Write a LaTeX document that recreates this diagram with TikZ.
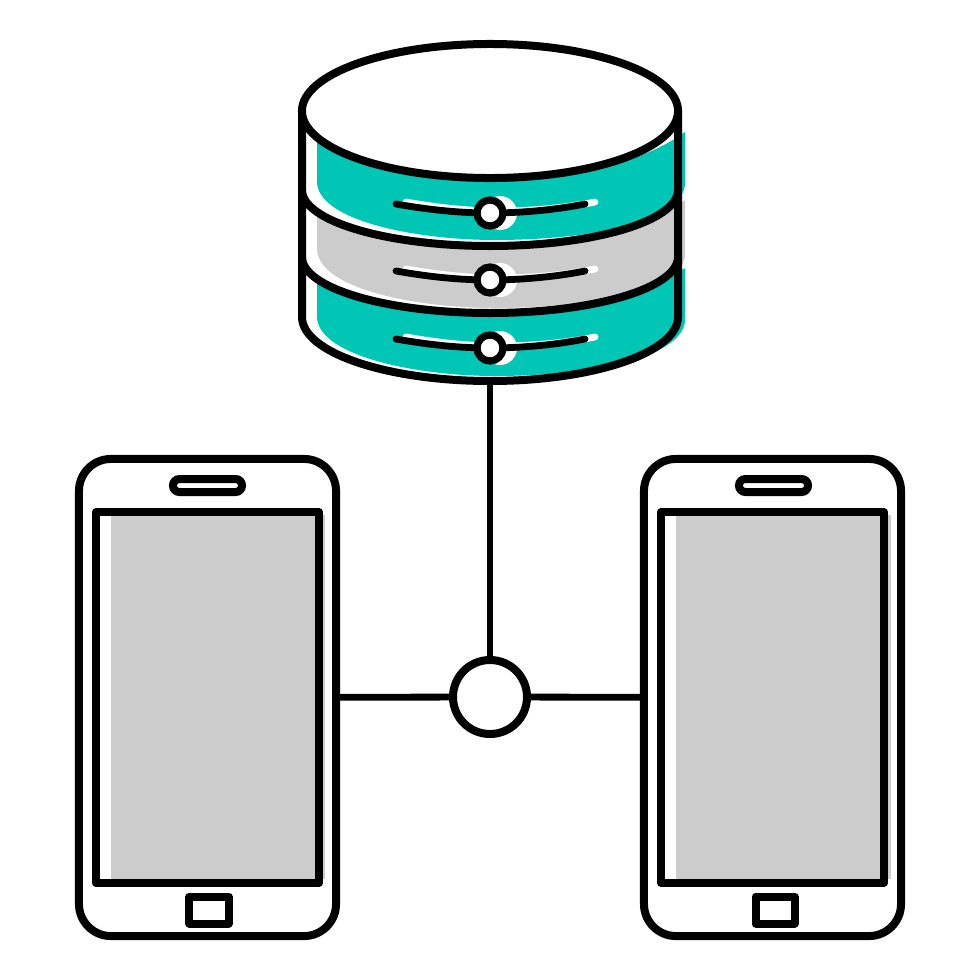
\documentclass[tikz,border=0pt]{standalone}
\usepackage{tikz}
\usepackage{xcolor}
\usetikzlibrary{shapes.geometric}
\definecolor{dbteal}{HTML}{00C7B5}
\definecolor{screengray}{HTML}{CCCCCC}
\tikzset{outline/.style={draw=black,line width=.2cm,inner sep=0pt},
 phonebody/.style={outline,fill=none,rounded corners=.8cm,minimum width=6.425cm,minimum height=11.925cm},
 phonescreen/.style={outline,line join=round,minimum width=5.575cm,minimum height=9.275cm},
 speaker/.style={outline,rounded corners=.16cm,minimum width=1.725cm,minimum height=.325cm},
 homebutton/.style={outline,line join=round,minimum width=.975cm,minimum height=.675cm},
 hub/.style={outline,circle,fill=white,minimum size=1.85cm},
 knob/.style={outline,line width=.18cm,circle,fill=white,minimum size=.65cm},
 disktop/.style={outline,ellipse,fill=white,minimum width=9.4cm,minimum height=3.35cm},
 wire/.style={draw=black,line width=.17cm},
 groove/.style={draw=black,line width=.17cm,line cap=round},
 groovelight/.style={draw=white,line width=.17cm,line cap=round},
 }

\begin{document}
\begin{tikzpicture}[x=.025cm,y=-.025cm]
        \useasboundingbox (0,0) rectangle (980,980);

        % colour layers, set off to the right of the outlines
        \fill[dbteal] (685,132) .. controls (640,165) and (560,181) .. (490,181) .. controls (420,181) and (350,165) .. (317,135) -- (317,183) .. controls (320,222) and (420,240) .. (495,240) .. controls (580,240) and (680,225) .. (685,185) -- cycle;
        \fill[screengray] (685,200) .. controls (640,232) and (560,249) .. (490,249) .. controls (420,249) and (350,232) .. (317,212) -- (317,250) .. controls (320,290) and (420,308) .. (495,308) .. controls (580,308) and (680,292) .. (685,257) -- cycle;
        \fill[dbteal] (685,268) .. controls (640,300) and (560,316) .. (490,316) .. controls (420,316) and (350,300) .. (317,280) -- (317,318) .. controls (320,357) and (420,376) .. (495,376) .. controls (580,376) and (680,360) .. (685,322) -- cycle;
        \fill[screengray] (111,515) rectangle (325,879);
        \fill[screengray] (676,515) rectangle (891,879);

        % database
        \draw[outline,fill=none] (302,111) -- (302,317) arc[start angle=180,end angle=0,x radius=188,y radius=64] -- (678,111);
        \draw[outline] (302,190) arc[start angle=180,end angle=0,x radius=188,y radius=56];
        \draw[outline] (302,257) arc[start angle=180,end angle=0,x radius=188,y radius=56];
        \node[disktop] (disk) at (490,111) {};
        \coordinate (diskbottom) at (490,381);

        \draw[groovelight] (406,202) .. controls (440,208) and (470,211) .. (500,211) .. controls (530,211) and (565,208) .. (595,202);
        \fill[white] (500,213) circle (17);
        \draw[groove] (396,204) .. controls (430,210) and (460,213) .. (490,213) .. controls (520,213) and (555,210) .. (585,204);
        \node[knob] (knobtop) at (490,213) {};

        \draw[groovelight] (406,269) .. controls (440,275) and (470,278) .. (500,278) .. controls (530,278) and (565,275) .. (595,269);
        \fill[white] (500,280) circle (17);
        \draw[groove] (396,271) .. controls (430,277) and (460,280) .. (490,280) .. controls (520,280) and (555,277) .. (585,271);
        \node[knob] (knobmid) at (490,280) {};

        \draw[groovelight] (406,337) .. controls (440,343) and (470,346) .. (500,346) .. controls (530,346) and (565,343) .. (595,337);
        \fill[white] (500,348) circle (17);
        \draw[groove] (396,339) .. controls (430,345) and (460,348) .. (490,348) .. controls (520,348) and (555,345) .. (585,339);
        \node[knob] (knobbot) at (490,348) {};

        % phones
        \node[phonebody] (leftphone) at (207.5,697.5) {};
        \node[phonescreen] (leftscreen) at (207.5,697.5) {};
        \node[speaker] (leftspeaker) at (207.5,485.5) {};
        \node[homebutton] (leftbutton) at (209,910) {};

        \node[phonebody] (rightphone) at (772.5,697.5) {};
        \node[phonescreen] (rightscreen) at (772.5,697.5) {};
        \node[speaker] (rightspeaker) at (773.5,485.5) {};
        \node[homebutton] (rightbutton) at (775,910) {};

        % links
        \node[hub] (hub) at (490,697) {};
        \draw[wire] (diskbottom) -- (hub);
        \draw[wire] (leftphone) -- (hub);
        \draw[wire] (rightphone) -- (hub);
    \end{tikzpicture}
\end{document}
